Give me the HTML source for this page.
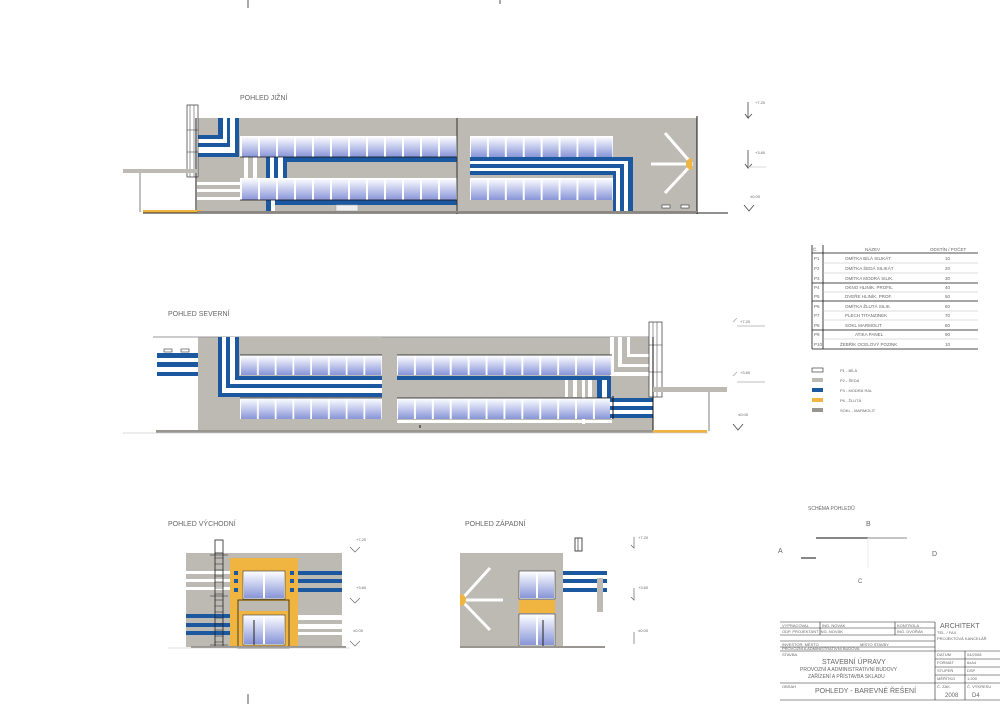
<!DOCTYPE html>
<html><head><meta charset="utf-8"><style>
html,body{margin:0;padding:0;background:#fff}
svg{display:block}
text{font-family:"Liberation Sans",sans-serif;fill:#666}
</style></head><body>
<svg width="1000" height="704" viewBox="0 0 1000 704" xmlns="http://www.w3.org/2000/svg">
<defs>
<linearGradient id="g" x1="0" y1="0" x2="0" y2="1"><stop offset="0" stop-color="#fbfcff"/><stop offset="1" stop-color="#8895d8"/></linearGradient>
<pattern id="pa" x="241" y="136" width="18" height="21" patternUnits="userSpaceOnUse"><rect width="18" height="21" fill="#fff"/><rect x="1" y="1" width="16" height="20" fill="url(#g)"/></pattern>
<pattern id="pb" x="241" y="178" width="18" height="22" patternUnits="userSpaceOnUse"><rect width="18" height="22" fill="#fff"/><rect x="1" y="1" width="16" height="21" fill="url(#g)"/></pattern>
<pattern id="pc" x="470" y="136" width="17.9" height="21" patternUnits="userSpaceOnUse"><rect width="18" height="21" fill="#fff"/><rect x="1" y="1" width="16" height="20" fill="url(#g)"/></pattern>
<pattern id="pd" x="470" y="178" width="17.9" height="22" patternUnits="userSpaceOnUse"><rect width="18" height="22" fill="#fff"/><rect x="1" y="1" width="16" height="21" fill="url(#g)"/></pattern>
<pattern id="pe" x="240" y="355" width="17.75" height="20" patternUnits="userSpaceOnUse"><rect width="18" height="20" fill="#fff"/><rect x="1" y="1" width="16" height="19" fill="url(#g)"/></pattern>
<pattern id="pf" x="240" y="398" width="17.75" height="21" patternUnits="userSpaceOnUse"><rect width="18" height="21" fill="#fff"/><rect x="1" y="1" width="16" height="20" fill="url(#g)"/></pattern>
<pattern id="pg" x="397" y="355" width="17.9" height="20" patternUnits="userSpaceOnUse"><rect width="18" height="20" fill="#fff"/><rect x="1" y="1" width="16" height="19" fill="url(#g)"/></pattern>
<pattern id="ph" x="397" y="398" width="17.9" height="21" patternUnits="userSpaceOnUse"><rect width="18" height="21" fill="#fff"/><rect x="1" y="1" width="16" height="20" fill="url(#g)"/></pattern>
</defs>

<!-- crop marks -->
<line x1="248" y1="0" x2="248" y2="8" stroke="#555"/>
<line x1="500" y1="0" x2="500" y2="4" stroke="#555"/>
<line x1="248" y1="694" x2="248" y2="704" stroke="#555"/>

<!-- ===== TOP ELEVATION ===== -->
<text x="240" y="100" font-size="7">POHLED JIŽNÍ</text>
<rect x="197" y="118" width="500" height="94" fill="#bdb9b3"/>
<!-- nested L top-left -->
<rect x="197" y="118" width="42" height="39" fill="#1c58a0"/>
<rect x="197" y="118" width="38" height="35" fill="#fff"/>
<rect x="197" y="118" width="33" height="29" fill="#1c58a0"/>
<rect x="197" y="118" width="30" height="25" fill="#fff"/>
<rect x="197" y="118" width="26" height="21" fill="#1c58a0"/>
<rect x="197" y="118" width="21" height="17" fill="#bdb9b3"/>
<!-- windows -->
<rect x="240" y="136" width="217" height="21" fill="url(#pa)"/>
<rect x="240" y="178" width="217" height="22" fill="url(#pb)"/>
<rect x="470" y="136" width="143" height="21" fill="url(#pc)"/>
<rect x="470" y="178" width="143" height="22" fill="url(#pd)"/>
<!-- middle band under upper windows -->
<rect x="244" y="157" width="4" height="21" fill="#fff"/>
<rect x="253" y="157" width="4" height="21" fill="#fff"/>
<rect x="266" y="157" width="4" height="21" fill="#1c58a0"/>
<rect x="270" y="157" width="4" height="21" fill="#fff"/>
<rect x="274" y="157" width="4" height="21" fill="#1c58a0"/>
<rect x="278" y="157" width="5" height="21" fill="#fff"/>
<rect x="283" y="157" width="4" height="21" fill="#1c58a0"/>
<rect x="283" y="157" width="174" height="5" fill="#1c58a0"/>
<line x1="240" y1="157" x2="457" y2="157" stroke="#111" stroke-width="0.8"/>
<!-- left white stripes -->
<rect x="197" y="182" width="43" height="3" fill="#fff"/>
<rect x="197" y="189" width="43" height="3" fill="#fff"/>
<rect x="197" y="197" width="43" height="3" fill="#fff"/>
<!-- lower blue -->
<rect x="266" y="200" width="5" height="12" fill="#1c58a0"/>
<rect x="271" y="200" width="4" height="12" fill="#fff"/>
<rect x="275" y="200" width="182" height="5" fill="#1c58a0"/>
<line x1="240" y1="200" x2="457" y2="200" stroke="#111" stroke-width="0.8"/>
<!-- right nested L -->
<rect x="470" y="157" width="163" height="55" fill="#1c58a0"/>
<rect x="470" y="161" width="158" height="51" fill="#fff"/>
<rect x="470" y="164" width="154" height="48" fill="#1c58a0"/>
<rect x="470" y="168" width="150" height="44" fill="#fff"/>
<rect x="470" y="171" width="146" height="41" fill="#1c58a0"/>
<rect x="470" y="175" width="143" height="37" fill="#bdb9b3"/>
<rect x="470" y="178" width="143" height="22" fill="url(#pd)"/>
<rect x="470" y="200" width="143" height="12" fill="#bdb9b3"/>
<!-- divider -->
<line x1="457" y1="118" x2="457" y2="214" stroke="#333" stroke-width="1"/>
<!-- sunburst -->
<g stroke="#fff" stroke-width="3"><line x1="692" y1="164" x2="665" y2="133"/><line x1="692" y1="164" x2="651" y2="164"/><line x1="692" y1="164" x2="665" y2="193"/></g>
<path d="M692 158 A6 6 0 0 0 692 170 Z" fill="#f0b540"/>
<rect x="662" y="205" width="8" height="3" fill="#fff" stroke="#333" stroke-width="0.6"/>
<rect x="681" y="205" width="8" height="3" fill="#fff" stroke="#333" stroke-width="0.6"/>
<line x1="697" y1="116" x2="697" y2="214" stroke="#111"/>
<rect x="336" y="205" width="22" height="6" fill="#eee" stroke="#999" stroke-width="0.5"/>
<!-- stair + canopy -->
<rect x="187" y="105" width="11" height="72" fill="#fff" stroke="#333" stroke-width="0.7"/>
<g stroke="#333" stroke-width="0.5"><line x1="190" y1="105" x2="190" y2="177"/><line x1="194" y1="105" x2="194" y2="177"/><line x1="187" y1="130" x2="198" y2="130"/><line x1="187" y1="152" x2="198" y2="152"/></g>
<line x1="196" y1="118" x2="196" y2="213" stroke="#111"/>
<rect x="123" y="169" width="74" height="4" fill="#bdb9b3"/>
<line x1="140" y1="173" x2="140" y2="212" stroke="#aaa" stroke-width="1.5"/>
<rect x="143" y="210" width="60" height="3" fill="#f0b540"/>
<line x1="143" y1="213" x2="728" y2="213" stroke="#222" stroke-width="1"/>
<rect x="197" y="211" width="500" height="2" fill="#8c8881"/>
<!-- level marks -->
<g stroke="#444" stroke-width="0.8" fill="none">
<path d="M748 102 V118 L745 114 M748 118 L752 114"/>
<path d="M748 150 V168 L745 164 M748 168 L752 164"/><line x1="748" y1="167" x2="766" y2="167" stroke="#ccc"/>
<path d="M744 205 L749 211 L754 205"/>
</g>
<text x="755" y="104" font-size="4">+7.20</text><text x="755" y="154" font-size="4">+3.60</text><text x="750" y="198" font-size="4">±0.00</text>

<!-- ===== SECOND ELEVATION ===== -->
<text x="168" y="316" font-size="7">POHLED SEVERNÍ</text>
<rect x="198" y="337" width="455" height="93" fill="#bdb9b3"/>
<line x1="153" y1="337" x2="655" y2="337" stroke="#999" stroke-width="1"/>
<rect x="157" y="353" width="41" height="5" fill="#1c58a0"/>
<rect x="157" y="362" width="41" height="5" fill="#1c58a0"/>
<rect x="157" y="372" width="41" height="4" fill="#1c58a0"/>
<rect x="164" y="349" width="8" height="3" fill="#fff" stroke="#333" stroke-width="0.6"/>
<rect x="181" y="349" width="8" height="3" fill="#fff" stroke="#333" stroke-width="0.6"/>
<!-- nested L -->
<rect x="218" y="337" width="164" height="60" fill="#1c58a0"/>
<rect x="222" y="337" width="160" height="56" fill="#fff"/>
<rect x="226" y="337" width="156" height="51" fill="#1c58a0"/>
<rect x="230" y="337" width="152" height="47" fill="#fff"/>
<rect x="235" y="337" width="147" height="43" fill="#1c58a0"/>
<rect x="239" y="337" width="143" height="39" fill="#bdb9b3"/>
<rect x="240" y="355" width="142" height="20" fill="url(#pe)"/>
<rect x="240" y="398" width="142" height="21" fill="url(#pf)"/>
<line x1="240" y1="355" x2="382" y2="355" stroke="#111" stroke-width="0.8"/>
<line x1="240" y1="398" x2="382" y2="398" stroke="#111" stroke-width="0.8"/>
<!-- right -->
<rect x="610" y="337" width="43" height="39" fill="#fff"/>
<rect x="614" y="337" width="39" height="35" fill="#bdb9b3"/>
<rect x="618" y="337" width="35" height="30" fill="#fff"/>
<rect x="622" y="337" width="31" height="27" fill="#bdb9b3"/>
<rect x="627" y="337" width="26" height="20" fill="#fff"/>
<rect x="630" y="337" width="23" height="17" fill="#bdb9b3"/>
<rect x="397" y="355" width="215" height="20" fill="url(#pg)"/>
<rect x="397" y="376" width="213" height="4" fill="#1c58a0"/>
<g fill="#fff"><rect x="565" y="380" width="3" height="17"/><rect x="573" y="380" width="4" height="17"/><rect x="582" y="380" width="3" height="44"/><rect x="588" y="380" width="4" height="17"/><rect x="602" y="380" width="5" height="17"/></g>
<rect x="597" y="376" width="5" height="22" fill="#1c58a0"/>
<rect x="607" y="376" width="4" height="22" fill="#1c58a0"/>
<rect x="397" y="398" width="215" height="21" fill="url(#ph)"/>
<line x1="397" y1="355" x2="612" y2="355" stroke="#111" stroke-width="0.8"/>
<line x1="397" y1="398" x2="612" y2="398" stroke="#111" stroke-width="0.8"/>
<rect x="397" y="420" width="215" height="3" fill="#fff"/>
<rect x="610" y="398" width="43" height="20" fill="#fff"/>
<rect x="610" y="398" width="43" height="4" fill="#1c58a0"/>
<rect x="610" y="406" width="43" height="4" fill="#1c58a0"/>
<rect x="610" y="414" width="43" height="4" fill="#1c58a0"/>
<line x1="613" y1="396" x2="613" y2="419" stroke="#111"/>
<line x1="420" y1="425" x2="420" y2="428" stroke="#111"/>
<!-- stair canopy -->
<rect x="649" y="322" width="13" height="75" fill="#fff" stroke="#333" stroke-width="0.7"/>
<g stroke="#333" stroke-width="0.5"><line x1="653" y1="322" x2="653" y2="397"/><line x1="657" y1="322" x2="657" y2="397"/><line x1="649" y1="345" x2="662" y2="345"/><line x1="649" y1="372" x2="662" y2="372"/></g>
<line x1="653" y1="337" x2="653" y2="432" stroke="#111"/>
<rect x="653" y="387" width="74" height="5" fill="#bdb9b3"/>
<line x1="709" y1="392" x2="709" y2="431" stroke="#aaa" stroke-width="1.5"/>
<rect x="647" y="430" width="60" height="3" fill="#f0b540"/>
<rect x="156" y="430" width="497" height="3" fill="#999590"/>
<line x1="123" y1="433" x2="708" y2="433" stroke="#ccc" stroke-width="0.8"/>
<g stroke="#444" stroke-width="0.8" fill="none">
<path d="M737 318 L733 322 M737 326 H765" stroke="#aaa"/>
<path d="M737 372 L733 376 M737 382 H765" stroke="#aaa"/>
<path d="M733 424 L738 430 L743 424"/>
</g>
<text x="740" y="323" font-size="4">+7.20</text><text x="740" y="374" font-size="4">+3.60</text><text x="738" y="416" font-size="4">±0.00</text>

<!-- ===== BOTTOM LEFT ELEVATION ===== -->
<text x="168" y="526" font-size="7">POHLED VÝCHODNÍ</text>
<rect x="186" y="553" width="156" height="94" fill="#bdb9b3"/>
<g fill="#fff"><rect x="186" y="571" width="44" height="3"/><rect x="186" y="579" width="44" height="3"/><rect x="186" y="587" width="44" height="3"/></g>
<g fill="#1c58a0"><rect x="186" y="614" width="44" height="4"/><rect x="186" y="623" width="44" height="4"/><rect x="186" y="631" width="44" height="4"/>
<rect x="298" y="571" width="44" height="4"/><rect x="298" y="579" width="44" height="4"/><rect x="298" y="588" width="44" height="4"/></g>
<g fill="#fff"><rect x="298" y="615" width="44" height="5"/><rect x="298" y="624" width="44" height="5"/><rect x="298" y="632" width="44" height="3"/></g>
<rect x="230" y="558" width="68" height="89" fill="#f0b540"/>
<g fill="#1c58a0"><rect x="234" y="571" width="4" height="4"/><rect x="234" y="579" width="4" height="4"/><rect x="234" y="588" width="4" height="4"/><rect x="290" y="571" width="4" height="4"/><rect x="290" y="579" width="4" height="4"/><rect x="290" y="588" width="4" height="4"/></g>
<rect x="243" y="571" width="42" height="28" fill="#fff" stroke="#333" stroke-width="0.6"/>
<rect x="244" y="572" width="19" height="26" fill="url(#g)"/><rect x="265" y="572" width="19" height="26" fill="url(#g)"/>
<rect x="238" y="600" width="51" height="48" fill="#f0b540" stroke="#222" stroke-width="0.8"/>
<rect x="239" y="601" width="49" height="10" fill="#bdb9b3"/>
<rect x="243" y="615" width="42" height="30" fill="#fff" stroke="#333" stroke-width="0.6"/>
<rect x="244" y="616" width="19" height="28" fill="url(#g)"/><rect x="265" y="616" width="19" height="28" fill="url(#g)"/>
<line x1="254" y1="620" x2="254" y2="645" stroke="#222"/>
<!-- ladder -->
<rect x="215" y="540" width="8" height="13" fill="#fff" stroke="#222" stroke-width="0.8"/>
<g stroke="#222" stroke-width="0.8"><line x1="215" y1="553" x2="215" y2="647"/><line x1="223" y1="553" x2="223" y2="647"/></g>
<g stroke="#222" stroke-width="0.5">
<line x1="215" y1="558" x2="223" y2="558"/><line x1="215" y1="564" x2="223" y2="564"/><line x1="215" y1="570" x2="223" y2="570"/><line x1="215" y1="576" x2="223" y2="576"/><line x1="215" y1="582" x2="223" y2="582"/><line x1="215" y1="588" x2="223" y2="588"/><line x1="215" y1="594" x2="223" y2="594"/><line x1="215" y1="600" x2="223" y2="600"/><line x1="215" y1="606" x2="223" y2="606"/><line x1="215" y1="612" x2="223" y2="612"/><line x1="215" y1="618" x2="223" y2="618"/><line x1="215" y1="624" x2="223" y2="624"/><line x1="215" y1="630" x2="223" y2="630"/><line x1="215" y1="636" x2="223" y2="636"/><line x1="215" y1="642" x2="223" y2="642"/>
<line x1="210" y1="555" x2="228" y2="555"/><line x1="210" y1="596" x2="228" y2="596"/><line x1="210" y1="645" x2="228" y2="645"/></g>
<rect x="191" y="646" width="155" height="2" fill="#999590"/>
<line x1="168" y1="648" x2="350" y2="648" stroke="#bbb" stroke-width="0.6"/>
<g stroke="#666" stroke-width="0.7" fill="none"><path d="M350 547 L355 552 L360 547"/><path d="M350 598 L355 603 L360 598"/><path d="M350 641 L355 646 L360 641"/></g>
<text x="356" y="541" font-size="4">+7.20</text><text x="356" y="589" font-size="4">+3.60</text><text x="353" y="632" font-size="4">±0.00</text>

<!-- ===== BOTTOM RIGHT ELEVATION ===== -->
<text x="465" y="526" font-size="7">POHLED ZÁPADNÍ</text>
<rect x="460" y="553" width="103" height="94" fill="#bdb9b3"/>
<g stroke="#fff" stroke-width="3"><line x1="461" y1="600" x2="490" y2="568"/><line x1="461" y1="600" x2="503" y2="600"/><line x1="461" y1="600" x2="490" y2="630"/></g>
<path d="M460 594 A6 6 0 0 1 460 606 Z" fill="#f0b540"/>
<rect x="519" y="571" width="36" height="28" fill="#fff" stroke="#333" stroke-width="0.6"/>
<rect x="520" y="572" width="16" height="26" fill="url(#g)"/><rect x="538" y="572" width="16" height="26" fill="url(#g)"/>
<rect x="519" y="600" width="36" height="13" fill="#f0b540"/>
<rect x="519" y="614" width="36" height="32" fill="#fff" stroke="#333" stroke-width="0.6"/>
<rect x="520" y="615" width="16" height="30" fill="url(#g)"/><rect x="538" y="615" width="16" height="30" fill="url(#g)"/>
<line x1="543" y1="620" x2="543" y2="646" stroke="#222"/>
<g fill="#1c58a0"><rect x="563" y="571" width="44" height="4"/><rect x="563" y="579" width="44" height="4"/><rect x="563" y="588" width="44" height="4"/></g>
<rect x="597" y="578" width="6" height="34" fill="#bdb9b3"/>
<rect x="575" y="538" width="7" height="13" fill="#fff" stroke="#222" stroke-width="0.8"/>
<line x1="578" y1="538" x2="578" y2="551" stroke="#222" stroke-width="0.6"/>
<rect x="460" y="646" width="145" height="2" fill="#999590"/>
<g stroke="#666" stroke-width="0.7" fill="none"><path d="M634 537 V548 L631 545"/><path d="M634 588 V600 L631 597"/><path d="M634 632 V644"/></g>
<text x="638" y="539" font-size="4">+7.20</text><text x="638" y="589" font-size="4">+3.60</text><text x="638" y="632" font-size="4">±0.00</text>

<!-- ===== LEGEND TABLE ===== -->
<g stroke="#111" stroke-width="0.8" fill="none">
<line x1="812" y1="245" x2="812" y2="349"/><line x1="823" y1="245" x2="823" y2="349"/>
<line x1="812" y1="253" x2="978" y2="253"/>
<line x1="812" y1="283" x2="978" y2="283"/><line x1="812" y1="301" x2="978" y2="301"/><line x1="812" y1="330" x2="978" y2="330"/>
<line x1="812" y1="349" x2="978" y2="349"/>
</g>
<g stroke="#bbb" stroke-width="0.5"><line x1="823" y1="263" x2="978" y2="263"/><line x1="823" y1="273" x2="978" y2="273"/><line x1="823" y1="292" x2="978" y2="292"/><line x1="823" y1="311" x2="978" y2="311"/><line x1="823" y1="320" x2="978" y2="320"/><line x1="823" y1="339" x2="978" y2="339"/></g>
<g font-size="4.5">
<text x="813" y="251">Č.</text><text x="865" y="251">NÁZEV</text><text x="930" y="251">ODSTÍN / POČET</text>
<text x="814" y="260">P1</text><text x="845" y="260">OMÍTKA BÍLÁ SILIKÁT</text><text x="945" y="260">10</text>
<text x="814" y="270">P2</text><text x="845" y="270">OMÍTKA ŠEDÁ SILIKÁT</text><text x="945" y="270">20</text>
<text x="814" y="280">P3</text><text x="845" y="280">OMÍTKA MODRÁ SILIK.</text><text x="945" y="280">30</text>
<text x="814" y="289">P4</text><text x="845" y="289">OKNO HLINÍK. PROFIL</text><text x="945" y="289">40</text>
<text x="814" y="298">P5</text><text x="845" y="298">DVEŘE HLINÍK. PROF.</text><text x="945" y="298">50</text>
<text x="814" y="308">P6</text><text x="845" y="308">OMÍTKA ŽLUTÁ SILIK.</text><text x="945" y="308">60</text>
<text x="814" y="317">P7</text><text x="845" y="317">PLECH TITANZINEK</text><text x="945" y="317">70</text>
<text x="814" y="327">P8</text><text x="845" y="327">SOKL MARMOLIT</text><text x="945" y="327">80</text>
<text x="814" y="336">P9</text><text x="855" y="336">ATIKA PANEL</text><text x="945" y="336">90</text>
<text x="814" y="346">P10</text><text x="840" y="346">ŽEBŘÍK OCELOVÝ POZINK</text><text x="945" y="346">10</text>
</g>
<rect x="812" y="368" width="11" height="4" fill="#fff" stroke="#222" stroke-width="0.6"/>
<rect x="812" y="378" width="11" height="4" fill="#bdb9b3"/>
<rect x="812" y="388" width="11" height="4" fill="#1c58a0"/>
<rect x="812" y="398" width="11" height="4" fill="#f0b540"/>
<rect x="812" y="408" width="11" height="4" fill="#999590"/>
<g font-size="4"><text x="840" y="372">P1 - BÍLÁ</text><text x="840" y="382">P2 - ŠEDÁ</text><text x="840" y="392">P3 - MODRÁ RAL</text><text x="840" y="402">P6 - ŽLUTÁ</text><text x="840" y="412">SOKL - MARMOLIT</text></g>

<!-- ===== SCHEME ===== -->
<text x="808" y="510" font-size="5">SCHÉMA POHLEDŮ</text>
<line x1="816" y1="538" x2="868" y2="538" stroke="#111"/>
<line x1="868" y1="538" x2="907" y2="538" stroke="#888"/>
<line x1="801" y1="558" x2="816" y2="558" stroke="#111"/>
<line x1="868" y1="538" x2="868" y2="568" stroke="#eee"/>
<text x="866" y="526" font-size="7">B</text><text x="778" y="553" font-size="7">A</text><text x="932" y="556" font-size="7">D</text><text x="858" y="583" font-size="6">C</text>

<!-- ===== TITLE BLOCK ===== -->
<g stroke="#222" stroke-width="0.6" fill="none">
<line x1="780" y1="622" x2="935" y2="622"/>
<line x1="780" y1="628" x2="935" y2="628"/>
<line x1="780" y1="635" x2="935" y2="635"/>
<line x1="780" y1="641" x2="935" y2="641"/>
<line x1="780" y1="647" x2="935" y2="647"/>
<line x1="780" y1="651" x2="935" y2="651"/>
<line x1="780" y1="683" x2="1000" y2="683"/>
<line x1="780" y1="700" x2="1000" y2="700"/>
<line x1="820" y1="622" x2="820" y2="635"/><line x1="895" y1="622" x2="895" y2="635"/>
<line x1="935" y1="622" x2="935" y2="700"/>
<line x1="935" y1="651" x2="1000" y2="651"/>
<line x1="935" y1="659" x2="1000" y2="659"/>
<line x1="935" y1="667" x2="1000" y2="667"/>
<line x1="935" y1="675" x2="1000" y2="675"/>
<line x1="965" y1="651" x2="965" y2="700"/>
</g>
<g font-size="4">
<text x="782" y="627">VYPRACOVAL</text><text x="822" y="627">ING. NOVÁK</text><text x="897" y="627">KONTROLA</text>
<text x="782" y="633">ODP. PROJEKTANT ING. NOVÁK</text><text x="897" y="633">ING. DVOŘÁK</text>
<text x="782" y="646">INVESTOR: MĚSTO</text><text x="860" y="646">MÍSTO STAVBY</text>
<text x="782" y="650">PROVOZNÍ A ADMINISTRATIVNÍ BUDOVA</text>
<text x="782" y="656">STAVBA</text>
<text x="937" y="656">DATUM</text><text x="967" y="656">04/2008</text>
<text x="937" y="664">FORMÁT</text><text x="967" y="664">6xA4</text>
<text x="937" y="672">STUPEŇ</text><text x="967" y="672">DSP</text>
<text x="937" y="680">MĚŘÍTKO</text><text x="967" y="680">1:200</text>
<text x="937" y="688">Č. ZAK.</text><text x="967" y="688">Č. VÝKRESU</text>
<text x="782" y="688">OBSAH</text>
<text x="937" y="634" font-size="4">TEL. / FAX</text>
<text x="937" y="640" font-size="4">PROJEKTOVÁ KANCELÁŘ</text>
</g>
<text x="940" y="628" font-size="7">ARCHITEKT</text>
<text x="822" y="664" font-size="7">STAVEBNÍ ÚPRAVY</text>
<text x="800" y="671" font-size="5">PROVOZNÍ A ADMINISTRATIVNÍ BUDOVY</text>
<text x="808" y="678" font-size="5">ZAŘÍZENÍ A PŘÍSTAVBA SKLADU</text>
<text x="815" y="693" font-size="7">POHLEDY - BAREVNÉ ŘEŠENÍ</text>
<text x="945" y="697" font-size="6">2008</text><text x="972" y="697" font-size="6">D4</text>
</svg>
</body></html>
